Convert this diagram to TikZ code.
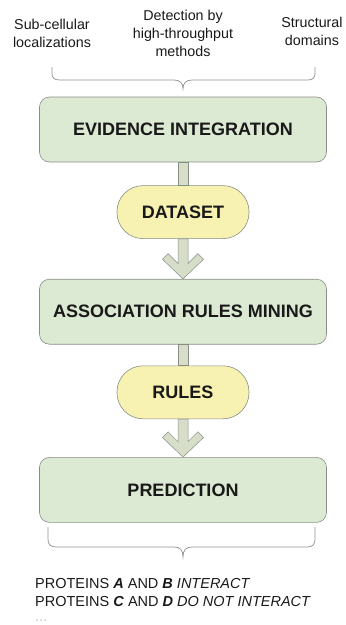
\documentclass[tikz,border=0pt]{standalone}
\usepackage{fontspec}
\setmainfont{Liberation Sans}
\usepackage{xcolor}
\usepackage{tikz}
\usetikzlibrary{positioning}
\definecolor{boxgreen}{RGB}{220,234,211}
\definecolor{pillyellow}{RGB}{248,242,178}
\definecolor{arrowfill}{RGB}{214,221,201}
\definecolor{edgegray}{RGB}{135,143,133}
\definecolor{bracegray}{RGB}{145,145,145}
\definecolor{textdark}{RGB}{25,25,25}
\tikzstyle{stepbox} = [rectangle, rounded corners=10pt,
fill=boxgreen, draw=edgegray, line width=0.6pt,
minimum width=287pt, minimum height=65pt,
align=center, font=\fontsize{18}{22}\selectfont\bfseries, text=textdark]
\tikzstyle{pill} = [rectangle, rounded corners=26pt,
fill=pillyellow, draw=edgegray, line width=0.6pt,
minimum width=132pt, minimum height=53pt,
font=\fontsize{18}{22}\selectfont\bfseries, text=textdark]
\tikzstyle{source} = [align=center, inner sep=0pt,
font=\fontsize{14.3}{18}\selectfont, text=textdark]
\tikzstyle{flowarrow} = [fill=arrowfill, draw=edgegray, line width=0.5pt, line join=miter]
\tikzstyle{bracket} = [draw=bracegray, line width=0.7pt]

\begin{document}
\begin{tikzpicture}[x=1pt, y=-1pt]
    \useasboundingbox (0,0) rectangle (346,625);

    % evidence sources
    \node (loc)    [source] at (52,33)  {Sub-cellular\\localizations};
    \node (htp)    [source] at (183,33) {Detection by\\high-throughput\\methods};
    \node (domain) [source] at (312,31) {Structural\\domains};

    % main flow
    \node (evid) [stepbox] at (183,129.5) {EVIDENCE INTEGRATION};
    \node (data) [pill, below=23pt of evid] {DATASET};
    \node (arm)  [stepbox, below=40pt of data] {ASSOCIATION RULES MINING};
    \node (rules)[pill, below=21pt of arm] {RULES};
    \node (pred) [stepbox, below=38pt of rules] {PREDICTION};

    % results
    \node (res) [anchor=north west, align=left, inner sep=0pt,
        font=\fontsize{14.5}{18}\selectfont, text=textdark] at (35,578)
    {PROTEINS \textbf{\textit{A}} AND \textbf{\textit{B}} \textit{INTERACT}\\
     PROTEINS \textbf{\textit{C}} AND \textbf{\textit{D}} \textit{DO NOT INTERACT}};
    \node (more) [anchor=base west, inner sep=0pt, text=black!25,
        font=\fontsize{14.5}{18}\selectfont] at (35,621) {...};

    % stems into the pills
    \draw[flowarrow] ([xshift=-5pt]evid.south) rectangle ([xshift=5pt]data.north);
    \draw[flowarrow] ([xshift=-5pt]arm.south) rectangle ([xshift=5pt]rules.north);

    % chevron arrows out of the pills
    \draw[flowarrow] ([xshift=-5pt]data.south) -- ([shift={(-5,-15.5)}]arm.north)
        -- ([shift={(-14.8,-25.3)}]arm.north) -- ([shift={(-20.5,-19.6)}]arm.north)
        -- (arm.north) -- ([shift={(20.5,-19.6)}]arm.north)
        -- ([shift={(14.8,-25.3)}]arm.north) -- ([shift={(5,-15.5)}]arm.north)
        -- ([xshift=5pt]data.south) -- cycle;
    \draw[flowarrow] ([xshift=-5pt]rules.south) -- ([shift={(-5,-15.5)}]pred.north)
        -- ([shift={(-14.8,-25.3)}]pred.north) -- ([shift={(-20.5,-19.6)}]pred.north)
        -- (pred.north) -- ([shift={(20.5,-19.6)}]pred.north)
        -- ([shift={(14.8,-25.3)}]pred.north) -- ([shift={(5,-15.5)}]pred.north)
        -- ([xshift=5pt]rules.south) -- cycle;

    % braces
    \draw[bracket] (52,67) -- (52,73) .. controls (52,78) and (54,80) .. (60,80)
        -- (174,80) .. controls (180,80) and (183,83) .. (183,89)
        .. controls (183,83) and (186,80) .. (192,80) -- (307,80)
        .. controls (313,80) and (315,78) .. (315,73) -- (315,67);
    \draw[bracket] (48,527) -- (48,539) .. controls (48,544) and (50,547) .. (56,547)
        -- (174,547) .. controls (180,547) and (183,550) .. (183,557)
        .. controls (183,550) and (186,547) .. (192,547) -- (307,547)
        .. controls (313,547) and (315,544) .. (315,539) -- (315,527);
\end{tikzpicture}
\end{document}
